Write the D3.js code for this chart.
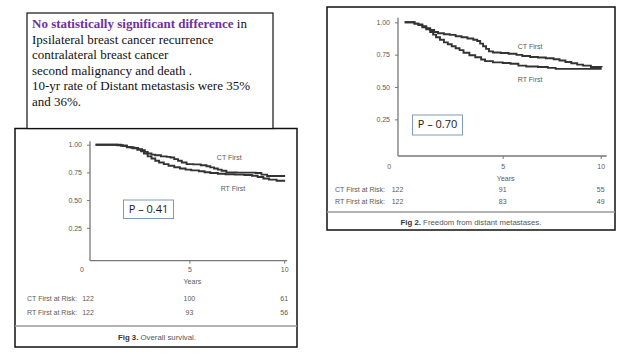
<!DOCTYPE html>
<html><head><meta charset="utf-8">
<script src="https://cdn.jsdelivr.net/npm/d3@7"></script>
<style>
html,body{margin:0;padding:0;background:#fff;}
svg{display:block;}
</style></head>
<body>
<svg id="c" width="638" height="359"></svg>
<script>
// ---------- data ----------
const noteLines = [
  [{t:"No statistically significant difference", b:true}, {t:" in"}],
  [{t:"Ipsilateral breast cancer recurrence"}],
  [{t:"contralateral breast cancer"}],
  [{t:"second malignancy and death ."}],
  [{t:"10-yr rate of Distant metastasis were 35%"}],
  [{t:"and 36%."}]
];
const yTicks = [0.25, 0.5, 0.75, 1.0];
const xTicks = [5, 10];
const riskYears = [0, 5, 10];
const seriesNames = ["CT First", "RT First"];

// Fig 3 overall survival [year, survival]
const osCT = [[0.05,1.00],[1.0,1.00],[1.2,0.995],[1.5,0.99],[1.7,0.98],[1.9,0.975],[2.1,0.97],[2.3,0.96],[2.5,0.95],[2.65,0.935],[2.8,0.92],[3.0,0.91],[3.2,0.905],[3.5,0.895],[3.8,0.89],[4.0,0.885],[4.2,0.87],[4.4,0.855],[4.6,0.84],[4.85,0.825],[5.2,0.822],[5.6,0.815],[5.9,0.805],[6.1,0.795],[6.3,0.785],[6.5,0.775],[6.7,0.765],[6.95,0.75],[7.5,0.748],[8.0,0.748],[8.5,0.745],[8.8,0.73],[9.1,0.718],[10.05,0.718]];
const osRT = [[0.05,1.00],[1.1,1.00],[1.4,0.99],[1.7,0.977],[2.0,0.968],[2.25,0.955],[2.45,0.94],[2.6,0.92],[2.8,0.895],[3.0,0.875],[3.2,0.855],[3.4,0.84],[3.65,0.825],[3.9,0.81],[4.2,0.797],[4.5,0.785],[4.8,0.775],[5.1,0.768],[5.5,0.76],[5.8,0.752],[6.1,0.745],[6.5,0.738],[6.9,0.733],[7.4,0.73],[7.9,0.727],[8.3,0.72],[8.6,0.708],[8.9,0.695],[9.2,0.685],[9.6,0.675],[10.05,0.675]];
const osRiskCT = [122, 100, 61];
const osRiskRT = [122, 93, 56];

// Fig 2 freedom from distant metastases [year, survival]
const dmCT = [[0.0,1.00],[0.3,1.00],[0.5,0.99],[0.7,0.983],[0.9,0.97],[1.1,0.955],[1.3,0.94],[1.5,0.925],[1.7,0.915],[2.0,0.908],[2.3,0.903],[2.6,0.892],[2.9,0.885],[3.2,0.875],[3.5,0.865],[3.7,0.855],[3.85,0.835],[4.0,0.815],[4.15,0.795],[4.3,0.775],[4.5,0.767],[4.9,0.763],[5.3,0.757],[5.7,0.748],[6.0,0.74],[6.4,0.732],[6.8,0.728],[7.2,0.722],[7.6,0.715],[7.9,0.705],[8.2,0.693],[8.5,0.683],[8.8,0.673],[9.1,0.665],[9.5,0.655],[10.05,0.653]];
const dmRT = [[0.0,1.00],[0.3,1.00],[0.5,0.99],[0.7,0.978],[0.9,0.962],[1.1,0.945],[1.3,0.925],[1.45,0.905],[1.6,0.885],[1.8,0.865],[2.0,0.845],[2.2,0.83],[2.4,0.815],[2.6,0.8],[2.8,0.785],[3.0,0.765],[3.3,0.745],[3.6,0.73],[3.9,0.712],[4.1,0.7],[4.5,0.69],[5.0,0.685],[5.4,0.68],[5.8,0.665],[6.2,0.658],[6.8,0.655],[7.3,0.648],[7.7,0.64],[8.5,0.64],[9.3,0.64],[10.05,0.64]];
const dmRiskCT = [122, 91, 55];
const dmRiskRT = [122, 83, 49];

const pLeft = "P \u2013 0.41";
const pRight = "P \u2013 0.70";
const capLeft = ["Fig 3.", " Overall survival."];
const capRight = ["Fig 2.", " Freedom from distant metastases."];

// ---------- drawing ----------
const svg = d3.select("#c");
svg.append("rect").attr("width",638).attr("height",359).attr("fill","#fff");

const figFont = "'Liberation Sans', Arial, sans-serif";
const grey = "#5a5a5a";

function drawFig(cfg){
  const g = svg.append("g");
  const x = d3.scaleLinear().domain([0,10]).range(cfg.xr);
  const y = d3.scaleLinear().domain([0,1]).range(cfg.yr);
  const ax = cfg.axisX, ay = cfg.axisY;

  // frame
  g.append("rect").attr("x",cfg.box[0]).attr("y",cfg.box[1])
    .attr("width",cfg.box[2]-cfg.box[0]).attr("height",cfg.box[3]-cfg.box[1])
    .attr("fill","none").attr("stroke","#111").attr("stroke-width",1.5);
  g.append("line").attr("x1",cfg.box[0]).attr("x2",cfg.box[2])
    .attr("y1",cfg.sep).attr("y2",cfg.sep).attr("stroke","#9a9a9a").attr("stroke-width",1.5);

  // y axis
  const yAxis = d3.axisLeft(y).tickValues(yTicks).tickFormat(d3.format(".2f"))
    .tickSize(3).tickPadding(cfg.yPad);
  const gy = g.append("g").attr("transform",`translate(${ax},0)`).call(yAxis);
  gy.select(".domain").remove();
  // x axis
  const xAxis = d3.axisBottom(x).tickValues(xTicks).tickFormat(d3.format("d"))
    .tickSize(3).tickPadding(cfg.xPad);
  const gx = g.append("g").attr("transform",`translate(0,${ay})`).call(xAxis);
  gx.select(".domain").remove();
  [gy,gx].forEach(a=>{
    a.selectAll("text").attr("fill",grey).style("font-family",figFont).style("font-size","7px");
    a.selectAll("line").attr("stroke","#777");
  });
  // axis lines
  g.append("line").attr("x1",ax).attr("x2",ax).attr("y1",y(1)-cfg.yOver).attr("y2",ay)
    .attr("stroke","#777").attr("stroke-width",1.3);
  g.append("line").attr("x1",ax).attr("x2",x(10)+cfg.xOver).attr("y1",ay).attr("y2",ay)
    .attr("stroke","#777").attr("stroke-width",1.3);
  // zero label at the corner
  g.append("text").attr("x",x(0)-cfg.zeroDx).attr("y",ay+cfg.xPad+3).attr("dy","0.71em")
    .attr("text-anchor","middle").attr("fill",grey)
    .style("font-family",figFont).style("font-size","7px").text("0");
  // Years
  g.append("text").attr("x",x(5)+3).attr("y",cfg.yearsY).attr("text-anchor","middle")
    .attr("dominant-baseline","middle").attr("fill",grey)
    .style("font-family",figFont).style("font-size","7px").text("Years");

  // curves
  const line = d3.line().x(d=>x(d[0])).y(d=>y(d[1])).curve(d3.curveStepAfter);
  [cfg.ct, cfg.rt].forEach(s=>{
    g.append("path").attr("d",line(s)).attr("fill","none")
      .attr("stroke","#333").attr("stroke-width",1.9).attr("stroke-linejoin","miter");
  });
  // series labels
  cfg.labels.forEach((l,i)=>{
    g.append("text").attr("x",x(l[0])).attr("y",y(l[1])).attr("text-anchor","middle")
      .attr("dominant-baseline","middle").attr("fill",grey)
      .style("font-family",figFont).style("font-size","7px").text(seriesNames[i]);
  });

  // at risk table
  [cfg.riskCT, cfg.riskRT].forEach((row,i)=>{
    const yy = cfg.riskY[i];
    g.append("text").attr("x",cfg.riskX).attr("y",yy).attr("dominant-baseline","middle")
      .attr("fill",grey).style("font-family",figFont).style("font-size","7px")
      .text(seriesNames[i] + " at Risk:");
    row.forEach((v,j)=>{
      const xx = j===0 ? cfg.risk0X : x(riskYears[j]);
      g.append("text").attr("x",xx).attr("y",yy).attr("text-anchor","middle")
        .attr("dominant-baseline","middle").attr("fill",grey)
        .style("font-family",figFont).style("font-size","7px").text(v);
    });
  });

  // caption
  const cap = g.append("text").attr("x",cfg.capX).attr("y",cfg.capY).attr("text-anchor","middle")
    .attr("dominant-baseline","middle").attr("fill","#555")
    .style("font-family",figFont).style("font-size","7.8px");
  cap.append("tspan").attr("font-weight","bold").attr("fill","#333").text(cfg.cap[0]);
  cap.append("tspan").text(cfg.cap[1]);

  // P box
  const pb = cfg.pbox;
  g.append("rect").attr("x",pb[0]).attr("y",pb[1]).attr("width",pb[2]).attr("height",pb[3])
    .attr("fill","#fff").attr("stroke","#7f9ab8").attr("stroke-width",1);
  g.append("text").attr("x",pb[0]+pb[2]/2).attr("y",pb[1]+pb[3]/2+0.5).attr("text-anchor","middle")
    .attr("dominant-baseline","middle").attr("fill","#1a1a1a")
    .style("font-family","'Open Sans', 'Noto Sans', sans-serif").style("font-size","11px").text(cfg.p);
}

// left figure (Fig 3)
drawFig({
  xr:[94.6,284.2], yr:[255.5,144.7], axisX:90, axisY:260.7,
  box:[15,128.5,297,347], sep:326,
  yPad:5, xPad:3, yOver:3.5, xOver:3, zeroDx:12.6, yearsY:282,
  ct:osCT, rt:osRT, labels:[[7.1,0.875],[7.3,0.595]],
  riskCT:osRiskCT, riskRT:osRiskRT, riskX:27, risk0X:88, riskY:[299,313],
  capX:157, capY:338, cap:capLeft,
  pbox:[123.5,200,50,18.5], p:pLeft
});
// right figure (Fig 2)
drawFig({
  xr:[404.7,600.7], yr:[151.7,22.3], axisX:398, axisY:156,
  box:[327,7,615,230], sep:212,
  yPad:5, xPad:5, yOver:4.5, xOver:6, zeroDx:15.5, yearsY:179,
  ct:dmCT, rt:dmRT, labels:[[6.4,0.81],[6.4,0.55]],
  riskCT:dmRiskCT, riskRT:dmRiskRT, riskX:335, risk0X:397.5, riskY:[190,201.7],
  capX:471, capY:223, cap:capRight,
  pbox:[412.5,115,50,20], p:pRight
});

// note box
const nb = svg.append("g");
nb.append("rect").attr("x",27).attr("y",13).attr("width",246).attr("height",115.5)
  .attr("fill","#fff").attr("stroke","#111").attr("stroke-width",1.2);
const lineH = 15.6;
noteLines.forEach((ln,i)=>{
  const t = nb.append("text").attr("x",32).attr("y",28 + i*lineH)
    .style("font-family","'Liberation Serif','Times New Roman',serif").style("font-size","13px")
    .attr("fill","#111");
  ln.forEach(seg=>{
    const ts = t.append("tspan").text(seg.t);
    if(seg.b){ ts.attr("font-weight","bold").attr("fill","#7030a0"); }
  });
});
</script>
</body></html>
